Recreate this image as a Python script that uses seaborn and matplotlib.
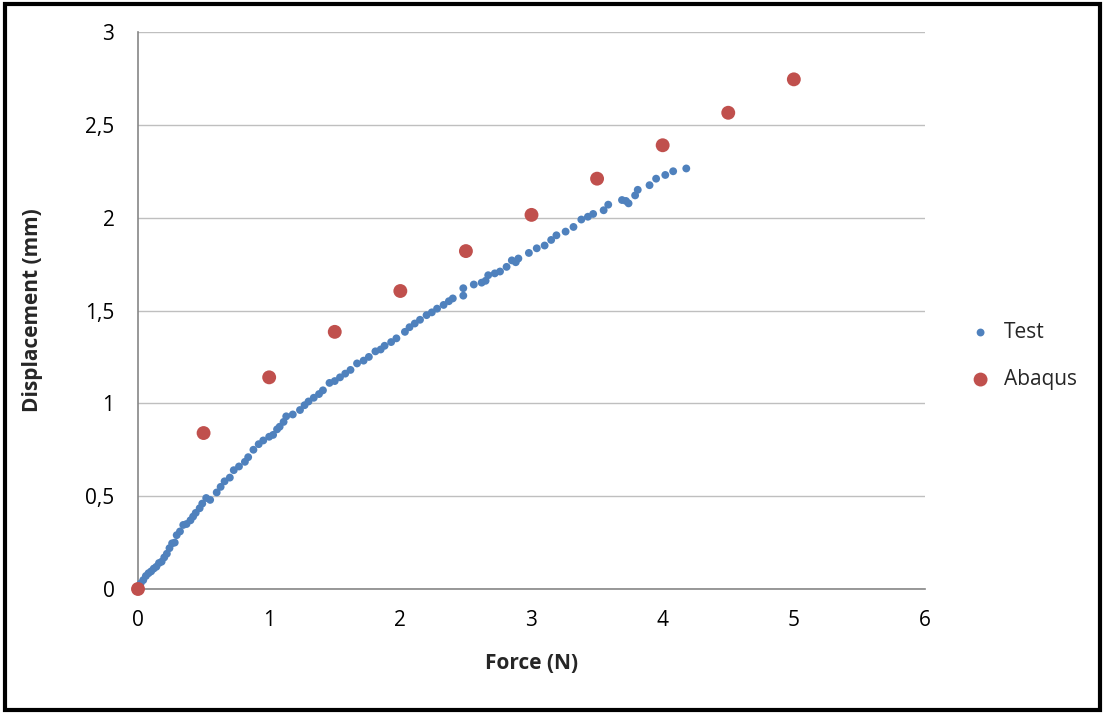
import pandas as pd
import matplotlib.pyplot as plt
import seaborn as sns
from matplotlib.patches import Rectangle
from matplotlib.ticker import FuncFormatter

# Test data
test_force = [0.02, 0.04, 0.06, 0.08, 0.1, 0.12, 0.14, 0.16, 0.18, 0.2,
              0.22, 0.24, 0.26, 0.28, 0.295, 0.32, 0.345, 0.37, 0.40, 0.42,
              0.44, 0.47, 0.49, 0.52, 0.55, 0.6, 0.63, 0.66, 0.70, 0.73,
              0.77, 0.815, 0.84, 0.88, 0.92, 0.955, 1.0, 1.03, 1.06, 1.08,
              1.11, 1.13, 1.18, 1.235, 1.27, 1.3, 1.34, 1.38, 1.41, 1.46,
              1.5, 1.54, 1.58, 1.62, 1.67, 1.72, 1.76, 1.81, 1.85, 1.88,
              1.93, 1.97, 2.035, 2.07, 2.11, 2.15, 2.2, 2.24, 2.28, 2.33,
              2.37, 2.40, 2.48, 2.48, 2.56, 2.62, 2.65, 2.67, 2.72, 2.76,
              2.81, 2.85, 2.88, 2.90, 2.98, 3.04, 3.10, 3.15, 3.19, 3.26,
              3.32, 3.38, 3.43, 3.47, 3.55, 3.585, 3.69, 3.72, 3.74, 3.79,
              3.81, 3.90, 3.95, 4.02, 4.08, 4.18]
test_disp = [0.03, 0.048, 0.07, 0.085, 0.095, 0.11, 0.12, 0.14, 0.147, 0.17,
             0.19, 0.22, 0.246, 0.25, 0.29, 0.31, 0.345, 0.35, 0.37, 0.39,
             0.41, 0.435, 0.46, 0.49, 0.48, 0.52, 0.55, 0.58, 0.60, 0.64,
             0.66, 0.685, 0.71, 0.75, 0.78, 0.80, 0.82, 0.83, 0.86, 0.874,
             0.90, 0.93, 0.94, 0.964, 0.99, 1.01, 1.03, 1.05, 1.07, 1.11,
             1.12, 1.14, 1.16, 1.18, 1.215, 1.23, 1.25, 1.28, 1.29, 1.31,
             1.33, 1.35, 1.385, 1.41, 1.43, 1.45, 1.475, 1.49, 1.51, 1.53,
             1.55, 1.565, 1.58, 1.62, 1.64, 1.65, 1.66, 1.69, 1.70, 1.71,
             1.735, 1.77, 1.76, 1.78, 1.81, 1.835, 1.85, 1.88, 1.905, 1.925,
             1.95, 1.99, 2.005, 2.02, 2.04, 2.07, 2.095, 2.09, 2.077, 2.12,
             2.15, 2.175, 2.21, 2.23, 2.25, 2.265]

# Abaqus results
abaqus_force = [0, 0.5, 1, 1.5, 2, 2.5, 3, 3.5, 4, 4.5, 5]
abaqus_disp = [0, 0.84, 1.14, 1.385, 1.605, 1.82, 2.015, 2.21, 2.39, 2.565, 2.745]

test_df = pd.DataFrame({"force": test_force, "disp": test_disp})
abaqus_df = pd.DataFrame({"force": abaqus_force, "disp": abaqus_disp})

sns.set_style("white")
plt.rcParams['font.family'] = ['Open Sans', 'DejaVu Sans']

fig = plt.figure(figsize=(11.03, 7.13), dpi=100)
ax = fig.add_axes([138 / 1103, 1 - 589 / 713, 787 / 1103, 557 / 713])

sns.scatterplot(data=test_df, x="force", y="disp", ax=ax, color="#4F81BD",
                s=32, edgecolor="none", label="Test", zorder=3, clip_on=False)
sns.scatterplot(data=abaqus_df, x="force", y="disp", ax=ax, color="#C0504D",
                s=100, edgecolor="none", label="Abaqus", zorder=4, clip_on=False)

ax.set_xlim(0, 6)
ax.set_ylim(0, 3)
ax.set_xticks(range(0, 7))
ax.set_yticks([0, 0.5, 1, 1.5, 2, 2.5, 3])
ax.yaxis.set_major_formatter(FuncFormatter(lambda v, p: ("%g" % v).replace(".", ",")))

ax.grid(axis="y", color="#BFBFBF", linewidth=1)
ax.grid(axis="x", visible=False)
for side in ["top", "right"]:
    ax.spines[side].set_visible(False)
for side in ["left", "bottom"]:
    ax.spines[side].set_color("#868686")
    ax.spines[side].set_linewidth(1.2)
ax.tick_params(axis="both", colors="#868686", length=5, width=1.2,
               direction="out", labelcolor="black", labelsize=15)
ax.tick_params(axis="x", pad=10)
ax.tick_params(axis="y", pad=12)

ax.set_xlabel("Force (N)", fontsize=15, fontweight="bold", labelpad=16)
ax.set_ylabel("Displacement (mm)", fontsize=15, fontweight="bold", labelpad=30)

leg = ax.legend(loc="center left", bbox_to_anchor=(941 / 1103, 1 - 356 / 713),
                bbox_transform=fig.transFigure, frameon=False, fontsize=15,
                handletextpad=0.1, labelspacing=1.25, markerscale=1.0)

# black frame around the whole chart
fig.patches.append(Rectangle((5 / 1103, 3 / 713), 1095 / 1103, 706 / 713,
                             transform=fig.transFigure, fill=False,
                             edgecolor="black", linewidth=3))

plt.savefig("out.png", dpi=100)
